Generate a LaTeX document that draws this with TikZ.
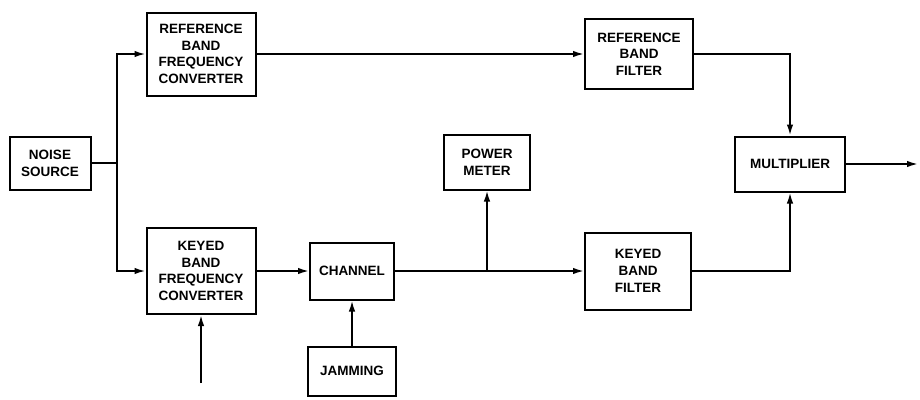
\documentclass[tikz,border=0pt]{standalone}
\usepackage{fontspec}
\setmainfont{Liberation Sans}
\usetikzlibrary{arrows.meta,positioning}

\begin{document}
\begin{tikzpicture}[x=1pt,y=-1pt,>={Latex[length=11pt,width=6.5pt]},line width=1.8pt,
 blk/.style={draw,line width=2pt,align=center,inner sep=0pt,
  font=\fontsize{13.5}{16.7}\selectfont\bfseries}]
\useasboundingbox (0,0) rectangle (920,399);
\node[blk,minimum width=81pt,minimum height=53pt] (noise) at (50,163) {NOISE\\SOURCE};
\node[blk,minimum width=109pt,minimum height=83pt] (refconv) at (201,54)
 {REFERENCE\\BAND\\FREQUENCY\\CONVERTER};
\node[blk,minimum width=109pt,minimum height=86pt] (keyconv) at (201,271)
 {KEYED\\BAND\\FREQUENCY\\CONVERTER};
\node[blk,minimum width=84pt,minimum height=57pt] (chan) at (352,271) {CHANNEL};
\node[blk,minimum width=88pt,minimum height=49pt] (jam) at (352,371) {JAMMING};
\node[blk,minimum width=86pt,minimum height=55pt] (meter) at (487,162) {POWER\\METER};
\node[blk,minimum width=106pt,minimum height=77pt] (keyfilt) at (638,271)
 {KEYED\\BAND\\FILTER};
\node[blk,minimum width=108pt,minimum height=70pt] (reffilt) at (639,54)
 {REFERENCE\\BAND\\FILTER};
\node[blk,minimum width=110pt,minimum height=55pt] (mult) at (790,164) {MULTIPLIER};
\coordinate (split) at (117,163);
\coordinate (tap) at (487,271);
\coordinate (keyin) at (201,383);
\coordinate (out) at (918,164);
% source splits into the two converters
\draw (noise.east)--(split);
\draw[->] (split)|-(refconv.west);
\draw[->] (split)|-(keyconv.west);
\draw[->] (keyin)--(keyconv.south);
% keyed path
\draw[->] (keyconv.east)--(chan.west);
\draw[->] (jam.north)--(chan.south);
\draw (chan.east)--(tap);
\draw[->] (tap)--(meter.south);
\draw[->] (tap)--(keyfilt.west);
% reference path
\draw[->] (refconv.east)--(reffilt.west);
\draw[->] (reffilt.east)-|(mult.north);
\draw[->] (keyfilt.east)-|(mult.south);
\draw[->] (mult.east)--(out);
\end{tikzpicture}
\end{document}
